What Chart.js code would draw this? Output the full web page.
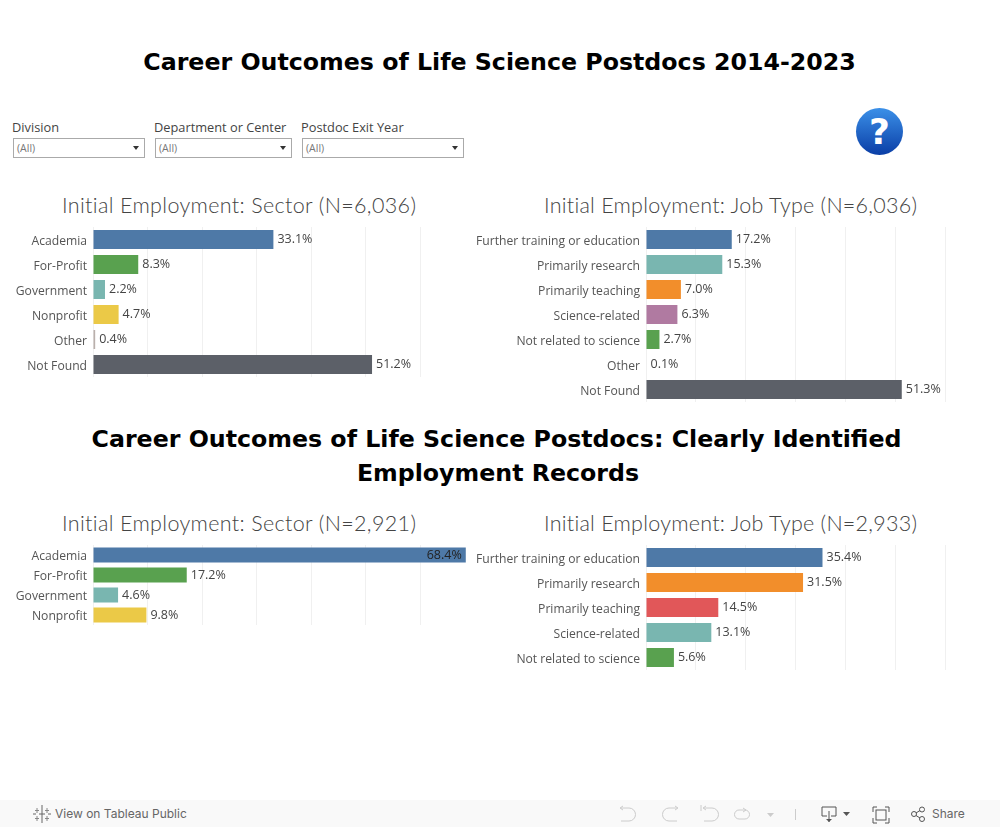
<!DOCTYPE html>
<html>
<head>
<meta charset="utf-8">
<title>Career Outcomes of Life Science Postdocs</title>
<script src="https://cdn.jsdelivr.net/npm/chart.js@4"></script>
<style>
  html, body { margin: 0; padding: 0; background: #fff; }
  body { width: 1000px; height: 827px; position: relative; overflow: hidden; font-family: "Open Sans", sans-serif; }
  .abs { position: absolute; white-space: nowrap; }
  h1 { margin: 0; font: bold 23.7px/34px "DejaVu Sans", sans-serif; color: #000; text-align: center; left: 0; }
  .sub { font: 300 21.5px/28px Lato, sans-serif; color: #444; letter-spacing: 0.35px; }
  .flabel { font-size: 12.8px; line-height: 16px; color: #444; top: 119px; }
  .select { top: 138px; height: 18px; border: 1px solid #aaa; font-size: 10.5px; line-height: 18px; color: #777; }
  .select span { margin-left: 3px; }
  .select i { position: absolute; right: 5px; top: 7px; width: 0; height: 0; border: 3.5px solid transparent; border-top: 4px solid #333; border-bottom: 0; }
  .help { left: 856px; top: 108px; width: 47px; height: 47px; border-radius: 50%; background: linear-gradient(#3b90e8, #0a3ea6); color: #fff; text-align: center; font: bold 36px/47px "DejaVu Sans", sans-serif; }
  canvas { position: absolute; }
  .bar { left: 0; top: 800px; width: 1000px; height: 27px; background: #f9f9f9; }
  .bar span { position: absolute; top: 6px; font: 12px/16px Inter, sans-serif; color: #666; }
  .bar svg { position: absolute; left: 0; top: 0; }
</style>
</head>
<body>
<h1 class="abs" style="top:45px;width:999px">Career Outcomes of Life Science Postdocs 2014-2023</h1>

<div class="abs flabel" style="left:12px">Division</div>
<div class="abs select" style="left:13px;width:130px"><span>(All)</span><i></i></div>
<div class="abs flabel" style="left:154px">Department or Center</div>
<div class="abs select" style="left:155px;width:135px"><span>(All)</span><i></i></div>
<div class="abs flabel" style="left:301px">Postdoc Exit Year</div>
<div class="abs select" style="left:302px;width:160px"><span>(All)</span><i></i></div>
<div class="abs help">?</div>

<div class="abs sub" style="left:62px;top:191px">Initial Employment: Sector (N=6,036)</div>
<div class="abs sub" style="left:544px;top:191px;letter-spacing:0.25px">Initial Employment: Job Type (N=6,036)</div>
<canvas id="sectorAll"></canvas>
<canvas id="jobAll"></canvas>

<h1 class="abs" style="top:422px;width:993px">Career Outcomes of Life Science Postdocs: Clearly Identified</h1>
<h1 class="abs" style="top:456px;width:996px">Employment Records</h1>

<div class="abs sub" style="left:62px;top:509px">Initial Employment: Sector (N=2,921)</div>
<div class="abs sub" style="left:544px;top:509px;letter-spacing:0.25px">Initial Employment: Job Type (N=2,933)</div>
<canvas id="sectorKnown"></canvas>
<canvas id="jobKnown"></canvas>

<div class="abs bar">
  <span style="left:55px">View on Tableau Public</span>
  <span style="left:932px">Share</span>
  <svg width="1000" height="27" fill="none" stroke-width="1">
    <!-- tableau logo -->
    <g stroke="#666">
      <path d="M42 5v6M42 17v6M36 14h-3M51 14h-3M42 11v6M39 14h6"/>
      <path d="M37 8v5M35 10.500h4M47 8v5M45 10.500h4M37 16v5M35 18.500h4M47 16v5M45 18.500h4" stroke="#888"/>
    </g>
    <!-- undo, redo, revert, refresh -->
    <g stroke="#ccc">
      <path d="M621 8h8a6 6 0 0 1 0 13h-8"/><path d="M623 6l-3 2 3 2"/>
      <path d="M677 8h-8a6 6 0 0 0 0 13h8"/><path d="M675 6l3 2-3 2"/>
      <path d="M704 8h8a6 6 0 0 1 0 13h-8"/><path d="M701 5v6M706 6l-3 2 3 2"/>
      <path d="M745 10h-6a3.500 3.500 0 0 0 0 9h6a3.500 3.500 0 0 0 0-9"/><path d="M743 8l3 2-3 2"/>
      <path d="M795.500 9v11"/>
    </g>
    <path d="M767 13h7l-3.500 4z" fill="#ccc"/>
    <!-- download, fullscreen, share -->
    <g stroke="#555">
      <path d="M822 7h14v9h-5M827 16h-5v-9"/><path d="M829 11v11"/>
      <path d="M873 12V7h4M885 7h4v5M889 18v5h-4M877 23h-4v-5"/>
      <rect x="876" y="10" width="10" height="10"/>
      <circle cx="914" cy="14" r="2.500"/><circle cx="922" cy="9.500" r="2.500"/><circle cx="922" cy="19" r="2.500"/>
      <path d="M916 13l4-2.500M916 15.500l4 2.500"/>
    </g>
    <path d="M826 19h6l-3 3z" fill="#555"/>
    <path d="M843 12h7l-3.500 4z" fill="#555"/>
  </svg>
</div>

<script>
// categories
const sectorLabels = ["Academia", "For-Profit", "Government", "Nonprofit", "Other", "Not Found"];
const jobLabels = ["Further training or education", "Primarily research", "Primarily teaching", "Science-related", "Not related to science", "Other", "Not Found"];
const sectorKnownLabels = ["Academia", "For-Profit", "Government", "Nonprofit"];
const jobKnownLabels = ["Further training or education", "Primarily research", "Primarily teaching", "Science-related", "Not related to science"];

// series values (percent)
const sectorValues = [33.1, 8.3, 2.2, 4.7, 0.4, 51.2];
const jobValues = [17.2, 15.3, 7.0, 6.3, 2.7, 0.1, 51.3];
const sectorKnownValues = [68.4, 17.2, 4.6, 9.8];
const jobKnownValues = [35.4, 31.5, 14.5, 13.1, 5.6];

// x axis grid ticks (labels are hidden)
const xTicks = [0, 10, 20, 30, 40, 50, 60];

const blue = "#4e79a7", green = "#59a14f", teal = "#79b6b0", yellow = "#ebc947";
const orange = "#f28e2b", purple = "#b07aa1", red = "#e15759", slate = "#5c6068", pale = "#bab0ac";

const sectorColors = [blue, green, teal, yellow, pale, slate];
const jobColors = [blue, teal, orange, purple, green, pale, slate];
const sectorKnownColors = [blue, green, teal, yellow];
const jobKnownColors = [blue, orange, red, teal, green];

// draws the "33.1%" text next to each bar, the one that overruns the grid goes inside
const barValueLabels = {
  id: "barValueLabels",
  afterDatasetsDraw(chart) {
    const ctx = chart.ctx;
    const values = chart.data.datasets[0].data;
    ctx.save();
    ctx.font = '12.5px "Open Sans", sans-serif';
    ctx.textBaseline = "middle";
    chart.getDatasetMeta(0).data.forEach(function (bar, i) {
      const text = values[i].toFixed(1) + "%";
      if (values[i] > Math.max.apply(null, xTicks)) {
        ctx.textAlign = "right";
        ctx.fillStyle = "#222";
        ctx.fillText(text, bar.x - 4, bar.y);
      } else {
        ctx.textAlign = "left";
        ctx.fillStyle = "#444";
        ctx.fillText(text, bar.x + 4, bar.y);
      }
    });
    ctx.restore();
  },
};

function drawBars(id, labels, values, colors, box) {
  const canvas = document.getElementById(id);
  canvas.width = box.width;
  canvas.height = box.height;
  canvas.style.left = box.left + "px";
  canvas.style.top = box.top + "px";
  new Chart(canvas, {
    type: "bar",
    data: {
      labels: labels,
      datasets: [
        {
          data: values,
          backgroundColor: colors,
          barThickness: box.bar,
          inflateAmount: 0,
        },
      ],
    },
    options: {
      indexAxis: "y",
      responsive: false,
      animation: false,
      devicePixelRatio: 1,
      layout: { padding: { left: 0, right: box.right, top: 0, bottom: 0 } },
      plugins: { legend: { display: false }, tooltip: { enabled: false } },
      scales: {
        x: {
          min: 0,
          max: 70,
          ticks: { display: false },
          border: { display: false },
          grid: { color: "#f0f0f0", drawTicks: false },
          afterBuildTicks(axis) {
            axis.ticks = xTicks.map(function (v) {
              return { value: v };
            });
          },
        },
        y: {
          border: { display: false },
          grid: { display: false, drawTicks: false },
          ticks: {
            color: "#555",
            padding: 6,
            labelOffset: 2,
            autoSkip: false,
            font: { family: '"Open Sans", sans-serif', size: 12.15 },
          },
          afterFit(axis) {
            axis.width = box.axis;
            // no half-label margin above and below, the rows fill the canvas
            axis.paddingTop = 0;
            axis.paddingBottom = 0;
          },
        },
      },
    },
    plugins: [barValueLabels],
  });
}

drawBars("sectorAll", sectorLabels, sectorValues, sectorColors, { left: 0, top: 227, width: 480, height: 150, axis: 93, right: 5.5, bar: 19 });
drawBars("jobAll", jobLabels, jobValues, jobColors, { left: 470, top: 227, width: 530, height: 175, axis: 176, right: 5, bar: 19 });
drawBars("sectorKnown", sectorKnownLabels, sectorKnownValues, sectorKnownColors, { left: 0, top: 545, width: 480, height: 80, axis: 93, right: 5.5, bar: 15 });
drawBars("jobKnown", jobKnownLabels, jobKnownValues, jobKnownColors, { left: 470, top: 545, width: 530, height: 125, axis: 176, right: 5, bar: 19 });
</script>
</body>
</html>
